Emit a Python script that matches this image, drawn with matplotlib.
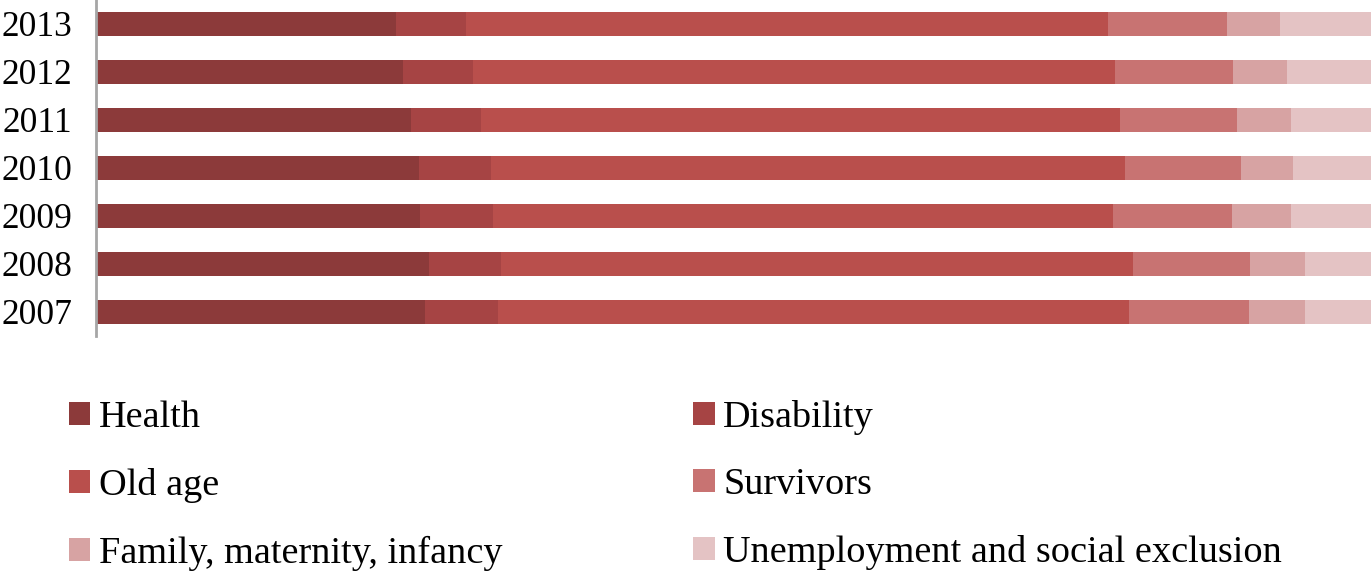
import matplotlib
matplotlib.use("Agg")
import matplotlib.pyplot as plt
from matplotlib.patches import Patch

plt.rcParams['font.family'] = ['Liberation Serif', 'DejaVu Serif']

years = ["2013", "2012", "2011", "2010", "2009", "2008", "2007"]
categories = ["Health", "Disability", "Old age", "Survivors",
              "Family, maternity, infancy", "Unemployment and social exclusion"]
health =       [23.5, 24.1, 24.7, 25.3, 25.4, 26.1, 25.8]
disability =   [5.5, 5.5, 5.5, 5.7, 5.7, 5.7, 5.7]
old_age =      [50.4, 50.3, 50.1, 49.7, 48.7, 49.5, 49.5]
survivors =    [9.3, 9.3, 9.2, 9.1, 9.3, 9.2, 9.4]
family =       [4.2, 4.2, 4.2, 4.1, 4.6, 4.3, 4.4]
unemployment = [7.1, 6.6, 6.3, 6.1, 6.3, 5.2, 5.2]
series = [health, disability, old_age, survivors, family, unemployment]
colors = ["#8C3A3A", "#A64444", "#B94F4C", "#C87372", "#D7A3A3", "#E4C3C4"]

W, H = 1371, 571
fig = plt.figure(figsize=(W / 100, H / 100), dpi=100)
ax = fig.add_axes([96 / W, 1 - 336 / H, 1 - 96 / W, 336 / H])

ypos = list(range(len(years)))
left = [0.0] * len(years)
for vals, c in zip(series, colors):
    ax.barh(ypos, vals, left=left, height=0.52, color=c, linewidth=0)
    left = [l + v for l, v in zip(left, vals)]

ax.set_xlim(0, 100)
ax.set_ylim(6.5, -0.5)
ax.set_yticks(ypos)
ax.set_yticklabels(years, fontsize=25.5)
ax.tick_params(axis='y', length=0, pad=17)
ax.set_xticks([])
for s in ["top", "right", "bottom"]:
    ax.spines[s].set_visible(False)
ax.spines["left"].set_color("#A6A6A6")
ax.spines["left"].set_linewidth(2.0)

order = [0, 2, 4, 1, 3, 5]
handles = [Patch(facecolor=colors[i], edgecolor='none', label=categories[i]) for i in order]
fig.legend(handles=handles, loc='upper left', ncol=2,
           bbox_to_anchor=(69 / W, 1 - 400 / H), frameon=False,
           fontsize=27.5, handlelength=0.56, handleheight=0.56,
           handletextpad=0.22, columnspacing=5.0, labelspacing=0.86,
           borderpad=0, borderaxespad=0)

fig.savefig("out.png", dpi=100)
